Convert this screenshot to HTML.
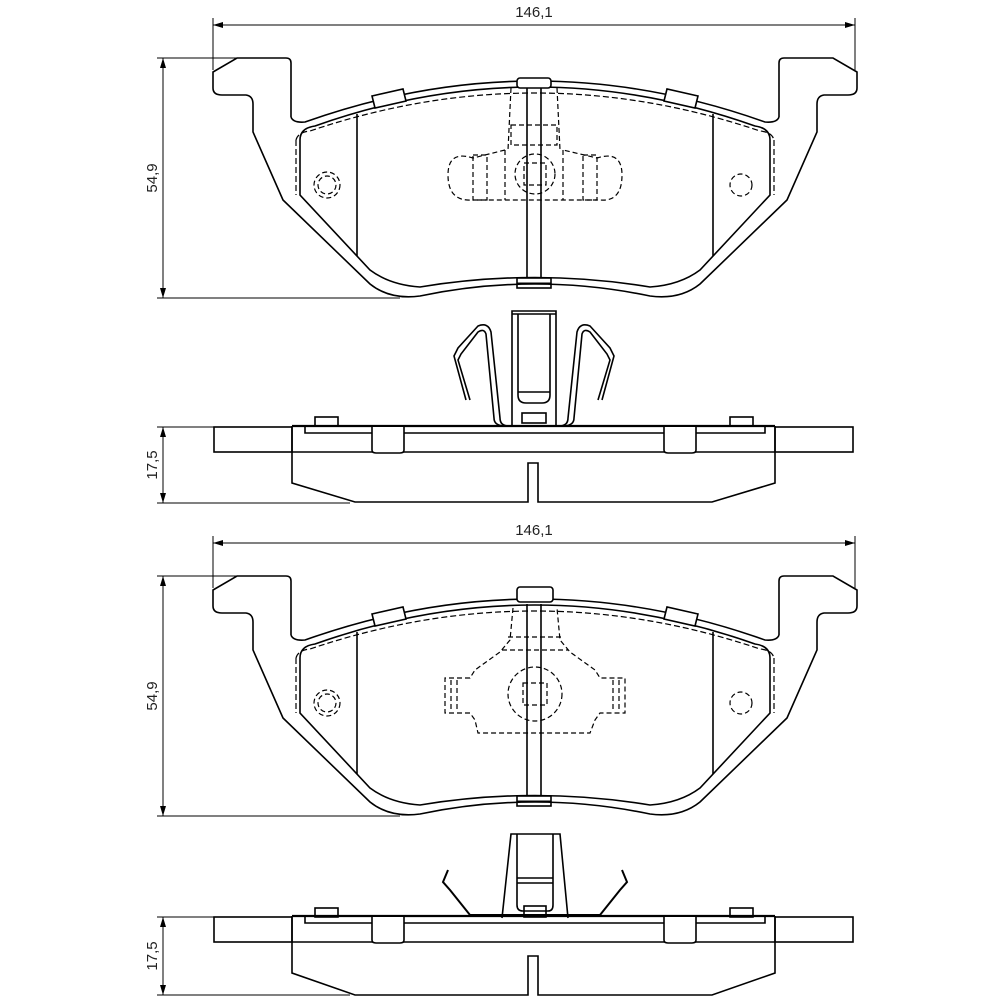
<!DOCTYPE html>
<html><head><style>html,body{margin:0;padding:0;background:#fff}svg{display:block}</style></head><body>
<svg width="1000" height="1000" viewBox="0 0 1000 1000" xmlns="http://www.w3.org/2000/svg" font-family="Liberation Sans, sans-serif">
<defs>
<marker id="a" viewBox="0 0 10 6" refX="10" refY="3" markerWidth="10" markerHeight="6" orient="auto-start-reverse" markerUnits="userSpaceOnUse"><path d="M0,0 L10,3 L0,6 z" fill="#000"/></marker>
<g id="pad" fill="none" stroke="#000" stroke-width="1.6">
<path d="M291,117 L291,63 Q291,58 286,58 L237,58 L213,72 L213,88 Q213,95 222,95 L246,95 Q253,96 253,104 L253,132 L283,200 L370,284 Q390,300 420,296 Q535,272 650,296 Q680,300 700,284 L787,200 L817,132 L817,104 Q817,96 824,95 L848,95 Q857,95 857,88 L857,72 L833,58 L784,58 Q779,58 779,63 L779,117"/>
<path d="M291,117 Q293,123 305,122 Q535,40 765,122 Q777,123 779,117"/>
<path d="M300,140 Q300,128 315,126 Q535,48 755,126 Q770,128 770,140 L770,195 L700,270 Q680,285 650,287 Q535,268 420,287 Q390,285 370,270 L300,195 Z"/>
<path d="M296,140 Q298,132 310,131 Q535,55 760,131 Q772,132 774,140" stroke-dasharray="6,3" stroke-width="1.2"/>
<path d="M296,140 L296,195" stroke-dasharray="6,3" stroke-width="1.2"/>
<path d="M774,140 L774,195" stroke-dasharray="6,3" stroke-width="1.2"/>
<line x1="357" y1="114" x2="357" y2="256"/>
<line x1="713" y1="114" x2="713" y2="256"/>
<line x1="527" y1="86" x2="527" y2="278"/>
<line x1="541" y1="86" x2="541" y2="278"/>
<rect x="517" y="278" width="34" height="10"/>
<line x1="517" y1="283" x2="551" y2="283" stroke-width="1"/>
<path d="M372,96 L403,89 L406,101 L375,108 Z" fill="#fff"/>
<path d="M698,96 L667,89 L664,101 L695,108 Z" fill="#fff"/>
<circle cx="327" cy="185" r="13" stroke-dasharray="5,3" stroke-width="1.2"/>
<circle cx="327" cy="185" r="9" stroke-dasharray="5,3" stroke-width="1.2"/>
<circle cx="741" cy="185" r="11" stroke-dasharray="5,3" stroke-width="1.2"/>
</g>
</defs>

<!-- dims top -->
<g stroke="#000" stroke-width="1">
<line x1="213" y1="18" x2="213" y2="70"/><line x1="855" y1="18" x2="855" y2="70"/>
<line x1="213" y1="25" x2="855" y2="25" marker-start="url(#a)" marker-end="url(#a)"/>
<line x1="157" y1="58" x2="240" y2="58"/><line x1="157" y1="298" x2="400" y2="298"/>
<line x1="163" y1="58" x2="163" y2="298" marker-start="url(#a)" marker-end="url(#a)"/>
<line x1="157" y1="427" x2="215" y2="427"/><line x1="157" y1="503" x2="350" y2="503"/>
<line x1="163" y1="427" x2="163" y2="503" marker-start="url(#a)" marker-end="url(#a)"/>

<line x1="213" y1="536" x2="213" y2="588"/><line x1="855" y1="536" x2="855" y2="588"/>
<line x1="213" y1="543" x2="855" y2="543" marker-start="url(#a)" marker-end="url(#a)"/>
<line x1="157" y1="576" x2="240" y2="576"/><line x1="157" y1="816" x2="400" y2="816"/>
<line x1="163" y1="576" x2="163" y2="816" marker-start="url(#a)" marker-end="url(#a)"/>
<line x1="157" y1="917" x2="215" y2="917"/><line x1="157" y1="995" x2="350" y2="995"/>
<line x1="163" y1="917" x2="163" y2="995" marker-start="url(#a)" marker-end="url(#a)"/>
</g>
<g font-size="15" fill="#222">
<text x="534" y="17" text-anchor="middle">146,1</text>
<text x="534" y="535" text-anchor="middle">146,1</text>
<text transform="translate(157,178) rotate(-90)" text-anchor="middle">54,9</text>
<text transform="translate(157,696) rotate(-90)" text-anchor="middle">54,9</text>
<text transform="translate(157,465) rotate(-90)" text-anchor="middle">17,5</text>
<text transform="translate(157,956) rotate(-90)" text-anchor="middle">17,5</text>
</g>

<!-- pad 1 -->
<use href="#pad"/>
<g fill="none" stroke="#000" stroke-width="1.2" stroke-dasharray="5,3">
<path d="M511,88 L508,150 M557,88 L560,150"/>
<rect x="511" y="125" width="46" height="20"/>
<path d="M505,150 L473,158 Q448,150 448,175 Q448,202 473,200 L600,200 Q622,202 622,175 Q622,150 597,158 L563,150"/>
<rect x="473" y="155" width="14" height="45"/><rect x="583" y="155" width="14" height="45"/>
<line x1="505" y1="150" x2="505" y2="200"/><line x1="563" y1="150" x2="563" y2="200"/>
<circle cx="535" cy="174" r="20"/><rect x="524" y="163" width="22" height="22"/>
</g>
<rect x="517" y="78" width="34" height="10" rx="3" fill="#fff" stroke="#000" stroke-width="1.6"/>

<!-- pad 2 -->
<use href="#pad" transform="translate(0,518)"/>
<g fill="none" stroke="#000" stroke-width="1.2" stroke-dasharray="5,3">
<path d="M513,608 L510,640 L500,652 L475,670 L470,678 L445,678 L445,713 L470,713 L475,720 L478,733 L590,733 L595,720 L600,713 L625,713 L625,678 L600,678 L595,670 L570,652 L560,640 L557,608"/>
<line x1="502" y1="650" x2="568" y2="650"/><line x1="508" y1="637" x2="562" y2="637"/>
<circle cx="535" cy="694" r="27"/><rect x="523" y="683" width="24" height="22"/>
<line x1="451" y1="680" x2="451" y2="711"/><line x1="457" y1="680" x2="457" y2="711"/>
<line x1="613" y1="680" x2="613" y2="711"/><line x1="619" y1="680" x2="619" y2="711"/>
</g>
<rect x="517" y="587" width="36" height="15" rx="3" fill="#fff" stroke="#000" stroke-width="1.6"/>

<!-- side view 1 -->
<g fill="none" stroke="#000" stroke-width="1.6">
<rect x="214" y="427" width="78" height="25"/>
<rect x="775" y="427" width="78" height="25"/>
<line x1="292" y1="426" x2="775" y2="426" stroke-width="2.2"/>
<path d="M305,426 L305,433 L765,433 L765,426"/>
<line x1="292" y1="452" x2="775" y2="452"/>
<path d="M292,426 L292,483 L355,502 L528,502 L528,463 L538,463 L538,502 L712,502 L775,483 L775,426"/>
<rect x="315" y="417" width="23" height="9"/><rect x="730" y="417" width="23" height="9"/>
<path d="M372,427 L372,450 Q372,453 376,453 L400,453 Q404,453 404,450 L404,427" fill="#fff"/>
<path d="M664,427 L664,450 Q664,453 668,453 L692,453 Q696,453 696,450 L696,427" fill="#fff"/>
<!-- clip -->
<path d="M512,426 L512,311 L556,311 L556,426"/>
<line x1="512" y1="314" x2="556" y2="314"/>
<path d="M518,314 L518,395 Q518,403 526,403 L542,403 Q550,403 550,395 L550,314"/>
<line x1="518" y1="392" x2="550" y2="392"/>
<rect x="522" y="413" width="24" height="10"/>
<path d="M509,426 Q500,426 500,418 L491,332 Q488,322 478,326 L458,348 L454,356 L466,400 M503,426 Q494,425 494,418 L486,334 Q484,328 478,332 L461,354 L458,360 L470,400"/>
<path d="M559,426 Q568,426 568,418 L577,332 Q580,322 590,326 L610,348 L614,356 L602,400 M565,426 Q574,425 574,418 L582,334 Q584,328 590,332 L607,354 L610,360 L598,400"/>
</g>

<!-- side view 2 -->
<g fill="none" stroke="#000" stroke-width="1.6">
<rect x="214" y="917" width="78" height="25"/>
<rect x="775" y="917" width="78" height="25"/>
<line x1="292" y1="916" x2="775" y2="916" stroke-width="2.2"/>
<path d="M305,916 L305,923 L765,923 L765,916"/>
<line x1="292" y1="942" x2="775" y2="942"/>
<path d="M292,916 L292,973 L355,995 L528,995 L528,956 L538,956 L538,995 L712,995 L775,973 L775,916"/>
<rect x="315" y="908" width="23" height="9"/><rect x="730" y="908" width="23" height="9"/>
<path d="M372,917 L372,940 Q372,943 376,943 L400,943 Q404,943 404,940 L404,917" fill="#fff"/>
<path d="M664,917 L664,940 Q664,943 668,943 L692,943 Q696,943 696,940 L696,917" fill="#fff"/>
<path d="M502,918 L511,834 L560,834 L568,918"/>
<path d="M517,834 L517,905 Q517,911 523,911 L548,911 Q553,911 553,905 L553,834"/>
<line x1="517" y1="878" x2="553" y2="878"/><line x1="517" y1="883" x2="553" y2="883"/>
<rect x="524" y="906" width="22" height="11"/>
<path d="M448,870 L443,882 L450,890 L470,915 L600,915 L620,890 L627,882 L622,870" stroke-width="2"/>
</g>
</svg>
</body></html>
